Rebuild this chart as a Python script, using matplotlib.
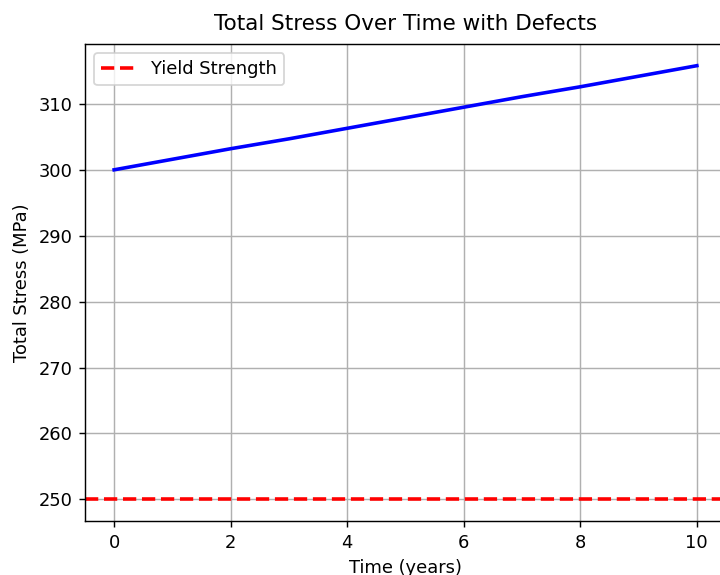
import numpy as np
import matplotlib
matplotlib.use('Agg')
import matplotlib.pyplot as plt

time_years = [0, 1, 2, 3, 4, 5, 6, 7, 8, 9, 10]
total_stress = [300.0, 301.6, 303.2, 304.7, 306.3, 307.9, 309.5, 311.1, 312.6, 314.2, 315.8]
yield_strength = 250

dpi = 129
fig = plt.figure(figsize=(720 / dpi, 575 / dpi), dpi=dpi)
ax = fig.add_axes([85 / 720, 54 / 575, 641 / 720, 477 / 575])

ax.plot(time_years, total_stress, color='blue', linewidth=2)
ax.axhline(yield_strength, color='red', linestyle='--', linewidth=2, label='Yield Strength')
ax.set_title('Total Stress Over Time with Defects', pad=8)
ax.set_xlabel('Time (years)')
ax.set_ylabel('Total Stress (MPa)')
ax.legend(loc='upper left')
ax.grid(True)

fig.savefig('out.png', dpi=dpi)
